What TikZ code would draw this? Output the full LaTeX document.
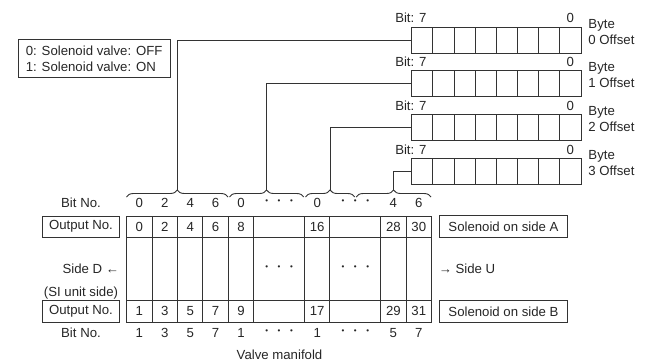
\documentclass[tikz,border=0pt]{standalone}
\usepackage{fontspec}
\setmainfont{Liberation Sans}
\usetikzlibrary{decorations.pathreplacing}
\newcommand{\onedot}{{\fontsize{8}{8}\selectfont\raisebox{1.8pt}{•}}}
\newcommand{\dotrow}{\onedot\hspace{9.6pt}\onedot\hspace{9.6pt}\onedot}

\begin{document}
\begin{tikzpicture}[x=1pt, y=-1pt, line width=0.9pt, color=black!80, text=black!85,
  font=\fontsize{13.2}{16}\selectfont,
  cellbox/.style={draw, inner sep=0pt, minimum height=21.3pt},
  tagbox/.style={draw, inner sep=0pt, minimum height=21.4pt},
  regbox/.style={draw, inner sep=0pt, minimum width=169.3pt, minimum height=26pt},
  bitbrace/.style={decorate, decoration={brace, amplitude=7pt}}]
  \useasboundingbox (0,0) rectangle (648,364);

  % legend
  \node[draw, inner sep=0pt, minimum width=151.7pt, minimum height=38pt, align=left]
    (legend) at (94.2,58.3) {0: Solenoid valve: OFF\\1: Solenoid valve: ON};

  % byte registers
  \foreach \k/\t in {0/27, 1/70.5, 2/114, 3/158} {
    \node[regbox] (byte\k) at (496.35,\t+13) {};
    \foreach \j in {1,...,7}
      \draw ({411.7+\j*21.16},\t) -- ++(0,26);
    \node[anchor=base east, inner sep=0pt] (bit7\k) at (427,\t-4) {Bit: 7};
    \node[anchor=base, inner sep=0pt] (bit0\k) at (570.4,\t-4) {0};
    \node[anchor=west, inner sep=0pt, align=left] (off\k) at (588,\t+5) {Byte\\\k{} Offset};
  }

  % braces over the bit numbers
  \draw[bitbrace] (126.5,197) -- (228,197);
  \draw[bitbrace] (229.5,197) -- (303.7,197);
  \draw[bitbrace] (305.5,197) -- (354.7,197);
  \draw[bitbrace] (356.2,197) -- (431,197);
  \coordinate (tip0) at (177.3,190);
  \coordinate (tip1) at (266.6,190);
  \coordinate (tip2) at (330.1,190);
  \coordinate (tip3) at (393.6,190);
  \foreach \k in {0,...,3}
    \draw (byte\k.west) -| (tip\k);

  % valve manifold
  \foreach \i/\x/\w/\a/\b/\m/\p/\q in {
      1/139.4/25.4/0/1/{}/0/1, 2/164.8/25.4/2/3/{}/2/3,
      3/190.2/25.4/4/5/{}/4/5, 4/215.6/25.4/6/7/{}/6/7,
      5/241.0/25.4/8/9/{}/0/1, 6/279.1/50.8/{}/{}/\dotrow/\dotrow/\dotrow,
      7/317.2/25.4/16/17/{}/0/1, 8/355.3/50.8/{}/{}/\dotrow/\dotrow/\dotrow,
      9/393.4/25.4/28/29/{}/4/5, 10/418.8/25.4/30/31/{}/6/7} {
    \node[cellbox, minimum width=\w pt] (top\i) at (\x,226.65) {\a};
    \node[cellbox, minimum width=\w pt, minimum height=63.4pt] (mid\i) at (\x,269) {\m};
    \node[cellbox, minimum width=\w pt] (bot\i) at (\x,311.35) {\b};
    \node (bt\i) at (\x,203) {\p};
    \node (bb\i) at (\x,333) {\q};
  }

  % left side
  \node (bitA) at (81,203) {Bit No.};
  \node[tagbox, minimum width=76.6pt] (outA) at (81,226.65) {Output No.};
  \node[anchor=east, inner sep=0pt] (sideD) at (119.5,269) {Side D ←};
  \node (siunit) at (81,293.3) {(SI unit side)};
  \node[tagbox, minimum width=76.6pt] (outB) at (81,311.35) {Output No.};
  \node (bitB) at (81,333) {Bit No.};

  % right side
  \node[tagbox, minimum width=128.4pt] (solA) at (503.5,226.5) {Solenoid on side A};
  \node[anchor=west, inner sep=0pt] (sideU) at (438.3,269) {→ Side U};
  \node[tagbox, minimum width=128.4pt] (solB) at (503.5,311.35) {Solenoid on side B};

  \node (manifold) at (279.5,355) {Valve manifold};
\end{tikzpicture}
\end{document}
